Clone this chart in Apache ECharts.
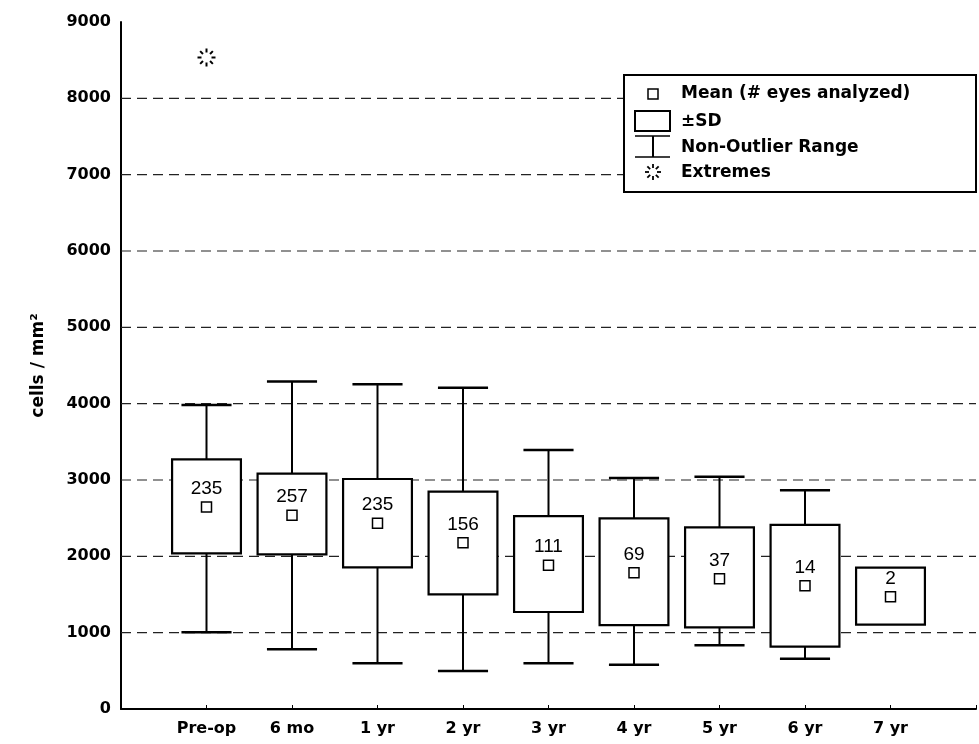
<!DOCTYPE html>
<html>
<head>
<meta charset="utf-8">
<script src="https://cdn.jsdelivr.net/npm/echarts@6/dist/echarts.min.js"></script>
<style>html,body{margin:0;padding:0;background:#fff}#c{width:979px;height:744px}</style>
</head>
<body>
<div id="c"></div>
<script>
var categories = ['Pre-op', '6 mo', '1 yr', '2 yr', '3 yr', '4 yr', '5 yr', '6 yr', '7 yr'];
var means      = [2646, 2537, 2433, 2179, 1882, 1786, 1707, 1615, 1471];
var sdLow      = [2040, 2026, 1856, 1502, 1271, 1100, 1070, 817, 1105];
var sdHigh     = [3270, 3083, 3013, 2847, 2528, 2498, 2380, 2411, 1851];
var rangeLow   = [1005, 782, 598, 498, 598, 580, 834, 659, null];
var rangeHigh  = [3983, 4290, 4254, 4209, 3393, 3026, 3044, 2865, null];
var counts     = [235, 257, 235, 156, 111, 69, 37, 14, 2];
var extremeCat = ['Pre-op'];
var extremeVal = [8535];
var yTicks     = [0, 1000, 2000, 3000, 4000, 5000, 6000, 7000, 8000, 9000];
var gridValues = [1000, 2000, 3000, 4000, 5000, 6000, 7000, 8000];

var FONT = 'DejaVu Sans';

var boxData = categories.map(function (c, i) {
  return [i + 1, rangeLow[i], sdLow[i], sdHigh[i], rangeHigh[i]];
});
var meanData = categories.map(function (c, i) { return [i + 1, means[i]]; });
var extremeData = extremeCat.map(function (c, i) { return [categories.indexOf(c) + 1, extremeVal[i]]; });
var gridData = gridValues.map(function (v) { return [0, v]; });

function starChildren(cx, cy, r0, r1, w, z) {
  var ch = [];
  for (var k = 0; k < 8; k++) {
    var a = k * Math.PI / 4;
    var el = {
      type: 'line',
      shape: { x1: cx + r0 * Math.cos(a), y1: cy + r0 * Math.sin(a), x2: cx + r1 * Math.cos(a), y2: cy + r1 * Math.sin(a) },
      style: { stroke: '#000', lineWidth: w }
    };
    if (z != null) el.z = z;
    ch.push(el);
  }
  return ch;
}

var LZ = 200;
var legendFont = 'bold 17px "DejaVu Sans"';
var legendEls = [
  { type: 'rect', z: LZ, shape: { x: 624, y: 75, width: 352, height: 117 }, style: { fill: '#fff', stroke: '#000', lineWidth: 2 } },
  { type: 'rect', z: LZ + 1, shape: { x: 648, y: 89, width: 10, height: 10 }, style: { fill: '#fff', stroke: '#000', lineWidth: 1.5 } },
  { type: 'rect', z: LZ + 1, shape: { x: 635, y: 111, width: 35, height: 20 }, style: { fill: '#fff', stroke: '#000', lineWidth: 2 } },
  { type: 'line', z: LZ + 1, shape: { x1: 635, y1: 136, x2: 670, y2: 136 }, style: { stroke: '#000', lineWidth: 1.5 } },
  { type: 'line', z: LZ + 1, shape: { x1: 653, y1: 136, x2: 653, y2: 157 }, style: { stroke: '#000', lineWidth: 2 } },
  { type: 'line', z: LZ + 1, shape: { x1: 635, y1: 157, x2: 670, y2: 157 }, style: { stroke: '#000', lineWidth: 1.5 } },
  { type: 'text', z: LZ + 1, x: 681, y: 94, style: { text: 'Mean (# eyes analyzed)', fill: '#000', font: legendFont, verticalAlign: 'middle' } },
  { type: 'text', z: LZ + 1, x: 681, y: 122, style: { text: '±SD', fill: '#000', font: legendFont, verticalAlign: 'middle' } },
  { type: 'text', z: LZ + 1, x: 681, y: 148, style: { text: 'Non-Outlier Range', fill: '#000', font: legendFont, verticalAlign: 'middle' } },
  { type: 'text', z: LZ + 1, x: 681, y: 173, style: { text: 'Extremes', fill: '#000', font: legendFont, verticalAlign: 'middle' } }
].concat(starChildren(653, 172, 4, 8, 1.8, LZ + 1));

var chart = echarts.init(document.getElementById('c'), null, { renderer: 'canvas' });
var option = {
  animation: false,
  backgroundColor: '#fff',
  grid: { left: 121, top: 22, width: 870, height: 687, containLabel: false },
  xAxis: {
    type: 'value', min: 0, max: 10, interval: 1,
    axisLine: { show: true, lineStyle: { color: '#000', width: 2 } },
    axisTick: { show: true, inside: true, length: 4, lineStyle: { color: '#000', width: 1 } },
    splitLine: { show: false },
    axisLabel: {
      margin: 12, color: '#000', fontFamily: FONT, fontWeight: 'bold', fontSize: 16,
      formatter: function (v) { return categories[v - 1] || ''; }
    }
  },
  yAxis: {
    type: 'value', min: 0, max: 9000, interval: 1000,
    name: 'cells / mm²', nameLocation: 'middle', nameRotate: 90, nameGap: 74,
    nameTextStyle: { color: '#000', fontFamily: FONT, fontWeight: 'bold', fontSize: 17 },
    axisLine: { show: true, lineStyle: { color: '#000', width: 2 } },
    axisTick: { show: false },
    splitLine: { show: false },
    axisLabel: {
      margin: 10, color: '#000', fontFamily: FONT, fontWeight: 'bold', fontSize: 16,
      formatter: function (v) { return yTicks.indexOf(v) >= 0 ? String(v) : ''; }
    }
  },
  series: [
    {
      type: 'custom', z: 1, silent: true,
      data: gridData,
      encode: { x: 0, y: 1 },
      renderItem: function (params, api) {
        var cs = params.coordSys;
        var y = api.coord([0, api.value(1)])[1];
        return {
          type: 'line',
          shape: { x1: cs.x, y1: y, x2: cs.x + cs.width, y2: y },
          style: { stroke: '#222', lineWidth: 1.2, lineDash: [10, 6] }
        };
      }
    },
    {
      type: 'custom', z: 3, silent: true,
      data: boxData,
      encode: { x: 0, y: [1, 2, 3, 4] },
      renderItem: function (params, api) {
        var x = api.value(0);
        var bw = api.size([0.805, 0])[0];
        var cw = api.size([0.586, 0])[0];
        var c = api.coord([x, api.value(2)]);
        var sl = c[1];
        var sh = api.coord([x, api.value(3)])[1];
        var cx = c[0];
        var ch = [];
        var rl = api.value(1), rh = api.value(4);
        var st = { stroke: '#000', lineWidth: 2 };
        if (rh != null && !isNaN(rh)) {
          var yh = api.coord([x, rh])[1];
          ch.push({ type: 'line', shape: { x1: cx, y1: yh, x2: cx, y2: sh }, style: st });
          ch.push({ type: 'line', shape: { x1: cx - cw / 2, y1: yh, x2: cx + cw / 2, y2: yh }, style: { stroke: '#000', lineWidth: 2.5 } });
        }
        if (rl != null && !isNaN(rl)) {
          var yl = api.coord([x, rl])[1];
          ch.push({ type: 'line', shape: { x1: cx, y1: sl, x2: cx, y2: yl }, style: st });
          ch.push({ type: 'line', shape: { x1: cx - cw / 2, y1: yl, x2: cx + cw / 2, y2: yl }, style: { stroke: '#000', lineWidth: 2.5 } });
        }
        ch.push({ type: 'rect', shape: { x: cx - bw / 2, y: sh, width: bw, height: sl - sh }, style: { fill: '#fff', stroke: '#000', lineWidth: 2.2 } });
        return { type: 'group', children: ch };
      }
    },
    {
      type: 'scatter', z: 4, silent: true,
      data: meanData,
      symbol: 'rect', symbolSize: 10,
      itemStyle: { color: '#fff', borderColor: '#000', borderWidth: 1.5, opacity: 1 },
      label: {
        show: true, position: 'top', distance: 3, color: '#000',
        fontFamily: 'Liberation Sans', fontSize: 19,
        formatter: function (p) { return String(counts[p.dataIndex]); }
      }
    },
    {
      type: 'custom', z: 4, silent: true,
      data: extremeData,
      encode: { x: 0, y: 1 },
      renderItem: function (params, api) {
        var p = api.coord([api.value(0), api.value(1)]);
        return { type: 'group', children: starChildren(p[0], p[1], 5, 9, 2) };
      }
    }
  ],
  graphic: { elements: legendEls }
};
chart.setOption(option);
</script>
</body>
</html>
